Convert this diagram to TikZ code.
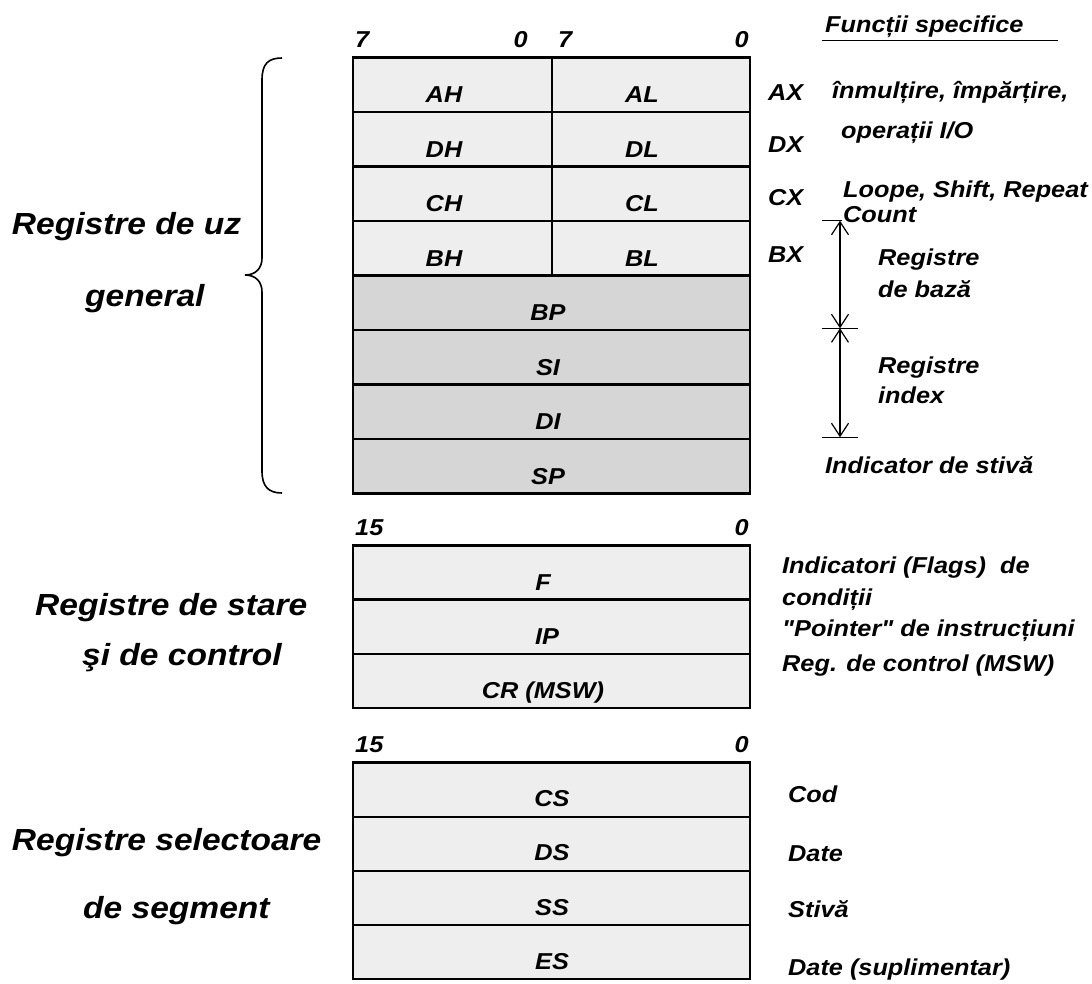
\documentclass[tikz,border=0pt]{standalone}
\usepackage{fontspec}
\setmainfont{Liberation Sans}[FakeStretch=1.1, Ligatures=TeXOff]
\usetikzlibrary{arrows.meta}
\definecolor{cellLight}{RGB}{238,238,238}
\definecolor{cellDark}{RGB}{214,214,214}
\begin{document}
\begin{tikzpicture}[x=1pt,y=-1pt,
  txt/.style={font=\fontsize{23}{27}\selectfont\bfseries\itshape, inner sep=0pt},
  lft/.style={txt, anchor=base west},
  rgt/.style={txt, anchor=base east},
  mid/.style={txt, anchor=base},
  big/.style={font=\fontsize{30.5}{36}\selectfont\bfseries\itshape, inner sep=0pt, anchor=base west},
  cell/.style={draw, line width=2.5pt, fill=cellLight, inner sep=0pt, outer sep=0pt,
    minimum height=54.5pt},
  halfcell/.style={cell, minimum width=199pt},
  fullcell/.style={cell, minimum width=397pt},
  darkcell/.style={fullcell, fill=cellDark},
  dim/.style={line width=1.2pt},
  barb/.style={dim, {Straight Barb[length=13pt,width=17pt]}-{Straight Barb[length=13pt,width=17pt]}}
]
\useasboundingbox (0,0) rectangle (1092,983);

% ---------- general purpose registers ----------
\foreach \hi/\lo/\k in {AH/AL/0, DH/DL/1, CH/CL/2, BH/BL/3} {
  \node[halfcell] (c\hi) at (452.5,{84.75+54.5*\k}) {};
  \node[halfcell, minimum width=198pt] (c\lo) at (651,{84.75+54.5*\k}) {};
  \node[mid] (t\hi) at (444,{102.5+54.5*\k}) {\hi};
  \node[mid] (t\lo) at (642,{102.5+54.5*\k}) {\lo};
}
\foreach \r/\k in {BP/4, SI/5, DI/6, SP/7} {
  \node[darkcell] (c\r) at (551.5,{84.75+54.5*\k}) {};
  \node[mid] (t\r) at (548,{102.5+54.5*\k}) {\r};
}
\node[lft] (b7a) at (355,47) {7};
\node[rgt] (b0a) at (528,47) {0};
\node[lft] (b7b) at (558,47) {7};
\node[rgt] (b0b) at (749,47) {0};

% register pair names
\node[lft] (nAX) at (768,100) {AX};
\node[lft] (nDX) at (768,152) {DX};
\node[lft] (nCX) at (768,205) {CX};
\node[lft] (nBX) at (768,262) {BX};

% specific functions column
\node[lft] (fhead) at (825,32) {Funcții specifice};
\coordinate (ulA) at (821.7,40.7);
\coordinate (ulB) at (1058,40.7);
\draw[line width=1.5pt] (ulA) -- (ulB);
\node[lft] (fmul) at (832,98) {înmulțire, împărțire,};
\node[lft] (fio) at (841,138) {operații I/O};
\node[lft] (floop) at (843,197) {Loope, Shift, Repeat};
\node[lft] (fcount) at (843,222) {Count};
\node[lft] (fbase1) at (878,265) {Registre};
\node[lft] (fbase2) at (878,297) {de bază};
\node[lft] (fidx1) at (878,373) {Registre};
\node[lft] (fidx2) at (878,403) {index};
\node[lft] (fstack) at (825,473) {Indicator de stivă};

% dimension marks for base / index registers
\coordinate (d1) at (840,220.7);
\coordinate (d2) at (840,328.3);
\coordinate (d3) at (840,437.3);
\coordinate (k1a) at (821.7,220.7);
\coordinate (k1b) at (841.7,220.7);
\coordinate (k2a) at (821.7,328.3);
\coordinate (k2b) at (858.3,328.3);
\coordinate (k3a) at (821.7,437.3);
\coordinate (k3b) at (858.3,437.3);
\draw[dim] (k1a) -- (k1b);
\draw[dim] (k2a) -- (k2b);
\draw[dim] (k3a) -- (k3b);
\draw[barb] (d1) -- (d2);
\draw[barb] (d2) -- (d3);

% brace and group title
\draw[line width=1.6pt] (282,58) .. controls (268,58) and (262,64) .. (262,80)
  -- (262,258) .. controls (262,268) and (256,275) .. (245,275)
  .. controls (256,275) and (262,282) .. (262,292)
  -- (262,471) .. controls (262,486) and (268,493) .. (282,493);
\node[big] (gUz1) at (11.7,234) {Registre de uz};
\node[big] (gUz2) at (85,306) {general};

% ---------- status and control registers ----------
\node[lft] (s15) at (355,535) {15};
\node[rgt] (s0) at (749,535) {0};
\foreach \r/\lab/\cy/\tx in {F/F/572.5/543, IP/IP/627/547, CR/CR (MSW)/681/543} {
  \node[fullcell, minimum height=54.3pt] (c\r) at (551.5,\cy) {};
  \node[mid] (t\r) at (\tx,\cy+17.5) {\lab};
}
\node[lft] (rFlags) at (782,573) {Indicatori (Flags)~ de};
\node[lft] (rCond) at (782,605) {condiții};
\node[lft] (rPtr) at (782,636) {"Pointer" de instrucțiuni};
\node[lft] (rCtl) at (782,671) {Reg. de control (MSW)};
\node[big] (gSt1) at (35,615) {Registre de stare};
\node[big] (gSt2) at (82,665) {şi de control};

% ---------- segment selector registers ----------
\node[lft] (g15) at (355,752) {15};
\node[rgt] (g0) at (749,752) {0};
\foreach \r/\k in {CS/0, DS/1, SS/2, ES/3} {
  \node[fullcell, minimum height=54.15pt] (c\r) at (551.5,{789.7+54.15*\k}) {};
  \node[mid] (t\r) at (552,{806.7+54.15*\k}) {\r};
}
\node[lft] (rCod) at (788,802) {Cod};
\node[lft] (rDate) at (788,861) {Date};
\node[lft] (rStiva) at (788,917) {Stivă};
\node[lft] (rDate2) at (788,975) {Date (suplimentar)};
\node[big] (gSeg1) at (11.7,850) {Registre selectoare};
\node[big] (gSeg2) at (83,918) {de segment};
\end{tikzpicture}
\end{document}
